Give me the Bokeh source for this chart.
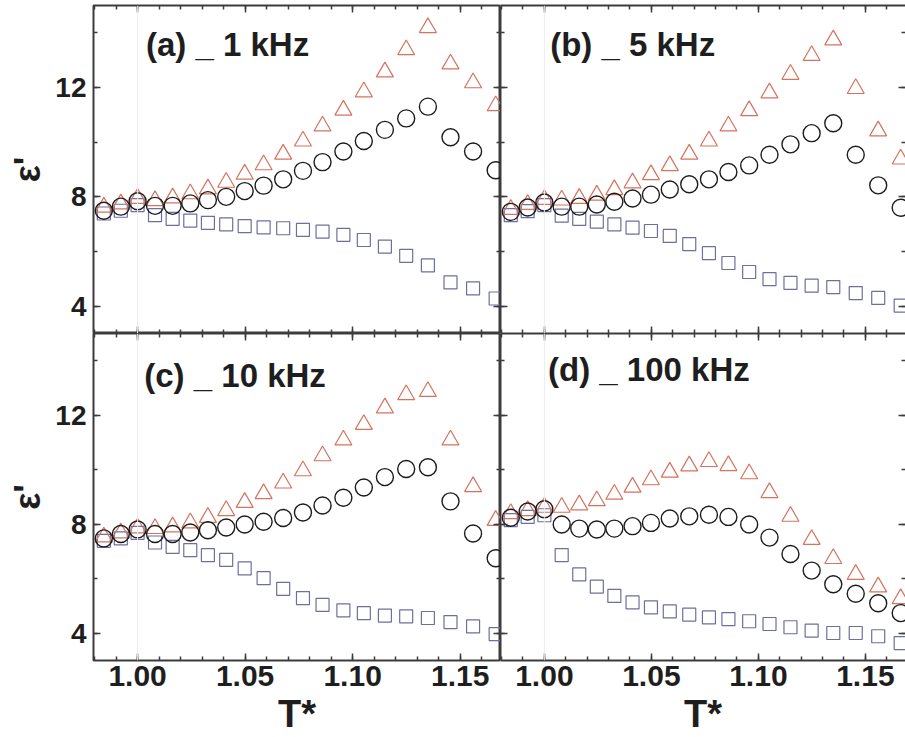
from bokeh.plotting import figure
from bokeh.models import Range1d, LinearAxis, SingleIntervalTicker, PrintfTickFormatter, Label, Span
from bokeh.layouts import column, row
from bokeh.embed import file_html
from bokeh.resources import INLINE

# Reduced temperature T*
T = [0.9843, 0.9922, 1.0000, 1.0081, 1.0163, 1.0245, 1.0327, 1.0412, 1.0498, 1.0586,
     1.0677, 1.0769, 1.0860, 1.0957, 1.1052, 1.1150, 1.1249, 1.1350, 1.1455, 1.1560, 1.1665]

# (a) 1 kHz
a_circle = [7.49, 7.64, 7.84, 7.67, 7.67, 7.76, 7.88, 8.00, 8.21, 8.41, 8.64, 8.95, 9.27,
            9.66, 10.04, 10.45, 10.87, 11.30, 10.18, 9.66, 8.97]
a_triangle = [7.62, 7.74, 7.94, 7.86, 7.96, 8.11, 8.29, 8.53, 8.83, 9.17, 9.56, 10.04,
              10.59, 11.17, 11.84, 12.57, 13.38, 14.19, 12.86, 12.17, 11.33]
a_square = [7.39, 7.49, 7.70, 7.33, 7.19, 7.13, 7.05, 6.99, 6.93, 6.88, 6.85, 6.79, 6.73,
            6.61, 6.42, 6.18, 5.84, 5.49, 4.87, 4.65, 4.28]

# (b) 5 kHz
b_circle = [7.45, 7.61, 7.79, 7.64, 7.64, 7.72, 7.82, 7.94, 8.08, 8.27, 8.46, 8.64, 8.91,
            9.15, 9.54, 9.92, 10.33, 10.69, 9.54, 8.42, 7.60]
b_triangle = [7.54, 7.72, 7.90, 7.88, 7.94, 8.06, 8.26, 8.51, 8.81, 9.14, 9.56, 10.04,
              10.59, 11.15, 11.80, 12.48, 13.17, 13.74, 11.96, 10.41, 9.38]
b_square = [7.33, 7.48, 7.70, 7.31, 7.19, 7.09, 6.99, 6.87, 6.75, 6.57, 6.27, 5.94, 5.58,
            5.25, 4.99, 4.85, 4.75, 4.70, 4.48, 4.30, 4.02]

# (c) 10 kHz
c_circle = [7.48, 7.64, 7.81, 7.64, 7.64, 7.70, 7.78, 7.88, 7.99, 8.09, 8.23, 8.43, 8.69,
            8.97, 9.35, 9.73, 10.03, 10.09, 8.84, 7.66, 6.75]
c_triangle = [7.53, 7.68, 7.86, 7.84, 7.90, 8.05, 8.25, 8.50, 8.80, 9.12, 9.51, 9.96,
              10.51, 11.09, 11.66, 12.27, 12.75, 12.87, 11.09, 9.38, 8.14]
c_square = [7.39, 7.48, 7.68, 7.33, 7.17, 7.05, 6.87, 6.69, 6.38, 6.02, 5.63, 5.29, 5.04,
            4.84, 4.74, 4.65, 4.62, 4.56, 4.41, 4.25, 3.97]

# (d) 100 kHz
d_circle = [8.24, 8.47, 8.55, 7.99, 7.84, 7.81, 7.84, 7.93, 8.05, 8.21, 8.29, 8.35, 8.27,
            7.99, 7.51, 6.91, 6.30, 5.80, 5.45, 5.10, 4.74]
d_triangle = [8.39, 8.50, 8.62, 8.62, 8.71, 8.86, 9.10, 9.36, 9.63, 9.91, 10.14, 10.30,
              10.15, 9.85, 9.16, 8.29, 7.44, 6.74, 6.16, 5.70, 5.27]
d_square = [8.15, 8.27, 8.33, 6.87, 6.16, 5.71, 5.37, 5.13, 4.95, 4.80, 4.68, 4.58, 4.52,
            4.44, 4.34, 4.22, 4.10, 4.01, 4.01, 3.89, 3.64]

panel_titles = ["(a) _ 1 kHz", "(b) _ 5 kHz", "(c) _ 10 kHz", "(d) _ 100 kHz"]
x_label = "T*"
y_label = "ε'"
x_major = 0.05
y_major = 4

FONT = "Liberation Sans"
FRAME = "#3c3c3c"
TEXT = "#1e1e1e"
X0, X1 = 0.9795, 0.9795 + 405 / 2140
Y0, Y1 = 3, 15


def style_axis(ax, is_x, labels, title, line):
    ax.axis_line_color = FRAME if line else None
    ax.axis_line_width = 2
    ax.major_tick_in = 7
    ax.major_tick_out = 0
    ax.minor_tick_in = 4
    ax.minor_tick_out = 0
    ax.major_tick_line_color = FRAME
    ax.minor_tick_line_color = FRAME
    ax.major_tick_line_width = 1.5
    ax.minor_tick_line_width = 1.5
    if labels:
        ax.major_label_text_font = FONT
        ax.major_label_text_font_style = "bold"
        ax.major_label_text_font_size = "30px" if is_x else "28px"
        ax.major_label_text_color = TEXT
        ax.major_label_standoff = 5 if is_x else 7
    else:
        ax.major_label_text_font_size = "0px"
        ax.major_label_text_color = None
        ax.major_label_standoff = 0
    if title:
        ax.axis_label = title
        ax.axis_label_text_font = FONT
        ax.axis_label_text_font_style = "bold"
        ax.axis_label_text_color = TEXT
        ax.axis_label_text_font_size = "38px" if is_x else "36px"
        ax.axis_label_standoff = 4 if is_x else 4


def make_panel(circ, tri, sq, left, bottom):
    w = 500 if left else 405
    h = 404 if bottom else 333
    p = figure(width=w, height=h, output_backend="svg", toolbar_location=None,
               x_range=Range1d(X0, X1), y_range=Range1d(Y0, Y1),
               x_axis_location=None, y_axis_location=None,
               min_border_left=93 if left else 0, min_border_right=0,
               min_border_top=0 if bottom else 5, min_border_bottom=76 if bottom else 0,
               background_fill_color="white", border_fill_color="white")
    p.grid.visible = False
    # left panels: full frame; right panels: frame cut off at the right edge
    p.outline_line_color = FRAME if left else None
    p.outline_line_width = 2
    for loc, is_x, lab, title in [("below", True, bottom, x_label if bottom else None),
                                  ("above", True, False, None),
                                  ("left", False, left, y_label if left else None),
                                  ("right", False, False, None)]:
        if is_x:
            ax = LinearAxis(ticker=SingleIntervalTicker(interval=x_major, num_minor_ticks=5),
                            formatter=PrintfTickFormatter(format="%.2f"))
        else:
            ax = LinearAxis(ticker=SingleIntervalTicker(interval=y_major, num_minor_ticks=2),
                            formatter=PrintfTickFormatter(format="%d"))
        style_axis(ax, is_x, lab, title, line=(not left and loc != "right"))
        p.add_layout(ax, loc)
    p.add_layout(Span(location=1.0, dimension="height", line_color="#ececec", line_width=1))
    p.scatter(T, sq, marker="square", size=13, fill_color=None,
              line_color="#6e6ea0", line_width=1.2)
    p.scatter(T, tri, marker="triangle", size=17, fill_color=None,
              line_color="#d4735e", line_width=1.2)
    p.scatter(T, circ, marker="circle", size=17, fill_color=None,
              line_color="#1c1c1c", line_width=1.4)
    return p


pa = make_panel(a_circle, a_triangle, a_square, True, False)
pb = make_panel(b_circle, b_triangle, b_square, False, False)
pc = make_panel(c_circle, c_triangle, c_square, True, True)
pd = make_panel(d_circle, d_triangle, d_square, False, True)

for p, title, tx, ty in [(pa, panel_titles[0], 1.0039, 13.57), (pb, panel_titles[1], 1.0027, 13.57),
                         (pc, panel_titles[2], 1.0031, 13.45), (pd, panel_titles[3], 1.0017, 13.68)]:
    p.add_layout(Label(x=tx, y=ty, text=title, text_font=FONT, text_font_style="bold",
                       text_font_size="33px", text_color=TEXT, text_align="left",
                       text_baseline="alphabetic"))

layout = column(row(pa, pb), row(pc, pd))
open("out.html", "w").write(file_html(layout, INLINE))
